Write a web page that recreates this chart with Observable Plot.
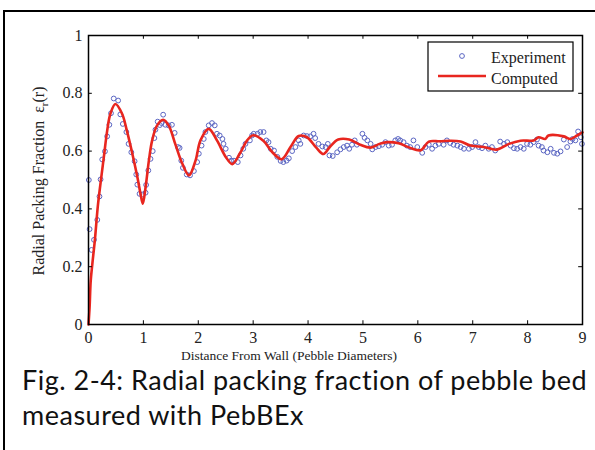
<!DOCTYPE html>
<html>
<head>
<meta charset="utf-8">
<script src="https://cdn.jsdelivr.net/npm/d3@7"></script>
<script src="https://cdn.jsdelivr.net/npm/@observablehq/plot@0.6"></script>
<style>
  html, body { margin: 0; padding: 0; background: #fff; }
  #wrap { position: relative; width: 595px; height: 450px; overflow: hidden; background: #fff; }
  #border { position: absolute; left: 3px; top: 10px; width: 700px; height: 700px; border-left: 2px solid #000; border-top: 2px solid #000; }
  #chart { position: absolute; left: 0; top: 0; }
  #caption { position: absolute; left: 22px; top: 362px; font-family: Lato, "Open Sans", sans-serif; font-size: 27px; letter-spacing: 0.5px; line-height: 35px; color: #111; white-space: nowrap; }
</style>
</head>
<body>
<div id="wrap">
  <div id="border"></div>
  <div id="chart"></div>
  <div id="caption">Fig. 2-4: Radial packing fraction of pebble bed<br>measured with PebBEx</div>
</div>
<script>
// ---- data ----
const expX = [0.006,0.02,0.055,0.10,0.16,0.20,0.22,0.25,0.30,0.34,0.38,0.41,0.46,0.54,0.58,0.625,0.69,0.73,0.78,0.84,0.87,0.89,0.93,0.98,1.04,1.05,1.09,1.13,1.17,1.20,1.22,1.26,1.30,1.33,1.36,1.40,1.46,1.52,1.57,1.63,1.66,1.69,1.72,1.79,1.85,1.92,1.98,2.01,2.06,2.10,2.13,2.19,2.25,2.30,2.34,2.39,2.44,2.46,2.50,2.56,2.60,2.65,2.72,2.77,2.82,2.86,2.94,2.98,3.01,3.08,3.13,3.19,3.24,3.28,3.32,3.38,3.44,3.50,3.55,3.61,3.65,3.71,3.77,3.83,3.86,3.92,3.98,4.04,4.10,4.13,4.19,4.26,4.32,4.36,4.39,4.45,4.53,4.59,4.65,4.71,4.75,4.80,4.85,4.89,4.99,5.03,5.08,5.14,5.17,5.23,5.29,5.35,5.41,5.47,5.53,5.59,5.64,5.68,5.74,5.80,5.86,5.92,5.99,6.08,6.14,6.20,6.26,6.32,6.38,6.47,6.53,6.59,6.65,6.72,6.78,6.84,6.93,6.99,7.05,7.11,7.17,7.23,7.29,7.35,7.41,7.50,7.57,7.63,7.69,7.75,7.81,7.87,7.93,7.99,8.05,8.11,8.17,8.20,8.26,8.29,8.36,8.42,8.48,8.54,8.60,8.66,8.72,8.78,8.82,8.87,8.92,8.97,8.99];
const expY = [0.50,0.33,0.258,0.293,0.362,0.443,0.502,0.571,0.599,0.651,0.691,0.731,0.782,0.775,0.727,0.694,0.666,0.625,0.596,0.565,0.519,0.484,0.452,0.45,0.456,0.483,0.533,0.573,0.600,0.645,0.674,0.702,0.690,0.697,0.726,0.691,0.689,0.691,0.663,0.614,0.611,0.567,0.542,0.519,0.516,0.531,0.562,0.591,0.619,0.642,0.666,0.689,0.697,0.689,0.660,0.654,0.642,0.625,0.608,0.577,0.567,0.567,0.562,0.585,0.608,0.625,0.637,0.654,0.660,0.660,0.666,0.666,0.637,0.631,0.608,0.602,0.580,0.566,0.562,0.567,0.575,0.600,0.614,0.637,0.625,0.654,0.652,0.651,0.660,0.645,0.625,0.616,0.614,0.625,0.585,0.583,0.596,0.606,0.614,0.619,0.608,0.622,0.637,0.622,0.660,0.646,0.637,0.625,0.606,0.614,0.617,0.622,0.631,0.619,0.622,0.637,0.642,0.637,0.631,0.619,0.614,0.637,0.614,0.594,0.614,0.622,0.608,0.619,0.625,0.622,0.637,0.628,0.622,0.619,0.614,0.608,0.608,0.614,0.631,0.614,0.610,0.619,0.608,0.614,0.602,0.633,0.625,0.631,0.619,0.610,0.608,0.614,0.608,0.625,0.622,0.631,0.640,0.619,0.614,0.602,0.596,0.608,0.594,0.591,0.599,0.640,0.614,0.633,0.642,0.637,0.668,0.648,0.625];

const compX = [0,0.02,0.04,0.07,0.115,0.17,0.22,0.28,0.34,0.40,0.49,0.61,0.70,0.80,0.89,0.95,0.99,1.04,1.10,1.16,1.25,1.36,1.46,1.58,1.71,1.83,1.95,2.04,2.19,2.34,2.50,2.62,2.77,2.89,3.00,3.19,3.35,3.52,3.68,3.83,3.98,4.15,4.28,4.40,4.55,4.75,4.95,5.14,5.30,5.45,5.65,5.85,6.05,6.20,6.40,6.60,6.78,6.96,7.20,7.44,7.66,7.87,8.11,8.20,8.32,8.38,8.66,8.78,8.90,9.00];
const compY = [0,0.06,0.15,0.21,0.29,0.41,0.49,0.58,0.67,0.73,0.763,0.73,0.67,0.59,0.51,0.45,0.418,0.475,0.567,0.637,0.689,0.708,0.689,0.625,0.556,0.516,0.567,0.637,0.677,0.637,0.58,0.555,0.596,0.637,0.655,0.635,0.596,0.572,0.614,0.652,0.648,0.612,0.590,0.615,0.640,0.640,0.622,0.612,0.625,0.631,0.627,0.612,0.603,0.633,0.634,0.636,0.633,0.619,0.614,0.605,0.625,0.636,0.637,0.648,0.642,0.654,0.651,0.642,0.654,0.665];

const xTicks = [0,1,2,3,4,5,6,7,8,9];
const xTickLabels = ["0","1","2","3","4","5","6","7","8","9"];
const yTicks = [0,0.2,0.4,0.6,0.8,1];
const yTickLabels = ["0","0.2","0.4","0.6","0.8","1"];

const seriesNames = ["Experiment","Computed"];
const xTitle = "Distance From Wall (Pebble Diameters)";
const yTitle = "Radial Packing Fraction";

// ---- tables ----
const experiment = expX.map((x, i) => ({x, y: expY[i]}));
const computed = compX.map((x, i) => ({x, y: compY[i]}));

const xDom = [0, 9], yDom = [0, 1];
const tx = 0.07, ty = 0.013; // inward tick lengths in data units

const blue = "#5b66c3", red = "#e8261f";

const svg = Plot.plot({
  width: 595,
  height: 370,
  marginLeft: 88,
  marginRight: 13,
  marginTop: 35,
  marginBottom: 46,
  x: {domain: xDom},
  y: {domain: yDom},
  style: {fontFamily: "'Liberation Serif', 'Times New Roman', serif", fontSize: "16px", background: "transparent", color: "#222"},
  marks: [
    Plot.dot(experiment, {x: "x", y: "y", r: 2.4, stroke: blue, strokeWidth: 1, fill: "none"}),
    Plot.line(computed, {x: "x", y: "y", stroke: red, strokeWidth: 2.6, curve: "catmull-rom"}),
    Plot.ruleX(xTicks, {x: d => d, y1: yDom[0], y2: yDom[0] + ty, stroke: "#000", strokeWidth: 1}),
    Plot.ruleX(xTicks, {x: d => d, y1: yDom[1], y2: yDom[1] - ty, stroke: "#000", strokeWidth: 1}),
    Plot.ruleY(yTicks, {y: d => d, x1: xDom[0], x2: xDom[0] + tx, stroke: "#000", strokeWidth: 1}),
    Plot.ruleY(yTicks, {y: d => d, x1: xDom[1], x2: xDom[1] - tx, stroke: "#000", strokeWidth: 1}),
    Plot.frame({stroke: "#000", strokeWidth: 1.5}),
    Plot.axisX({ticks: xTicks, tickSize: 0, tickPadding: 7, label: null, tickFormat: (d, i) => xTickLabels[i]}),
    Plot.axisY({ticks: yTicks, tickSize: 0, tickPadding: 6, label: null, tickFormat: (d, i) => yTickLabels[i]})
  ]
});

document.getElementById("chart").appendChild(svg);

const s = d3.select(svg).style("overflow", "visible");
const serif = "'Liberation Serif', 'Times New Roman', serif";

// x title
s.append("text")
  .attr("x", 289).attr("y", 360)
  .attr("text-anchor", "middle")
  .attr("font-family", serif).attr("font-size", 13.5).attr("fill", "#222")
  .text(xTitle);

// y title with subscript
const yt = s.append("text")
  .attr("transform", "translate(44,181) rotate(-90)")
  .attr("text-anchor", "middle")
  .attr("font-family", serif).attr("font-size", 16).attr("fill", "#222");
yt.append("tspan").text(yTitle + "\u2002\u03B5");
yt.append("tspan").attr("font-size", 11).attr("dy", 4).text("r");
yt.append("tspan").attr("dy", -4).text("(r)");

// legend
const lg = s.append("g").attr("text-anchor", "start");
lg.append("rect").attr("x", 428).attr("y", 42).attr("width", 145).attr("height", 49)
  .attr("fill", "#fff").attr("stroke", "#000").attr("stroke-width", 1.2);
lg.append("circle").attr("cx", 462).attr("cy", 56).attr("r", 2.4)
  .attr("fill", "none").attr("stroke", blue).attr("stroke-width", 1);
lg.append("line").attr("x1", 438).attr("x2", 486).attr("y1", 76).attr("y2", 76)
  .attr("stroke", red).attr("stroke-width", 2.6);
lg.append("text").attr("x", 491).attr("y", 62.5).attr("text-anchor", "start")
  .attr("font-family", serif).attr("font-size", 16).attr("fill", "#222").text(seriesNames[0]);
lg.append("text").attr("x", 491).attr("y", 84).attr("text-anchor", "start")
  .attr("font-family", serif).attr("font-size", 16).attr("fill", "#222").text(seriesNames[1]);
</script>
</body>
</html>
